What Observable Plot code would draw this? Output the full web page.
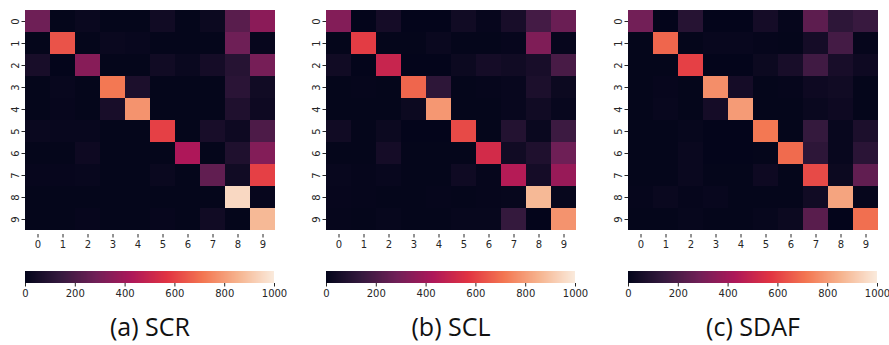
<!DOCTYPE html>
<html>
<head>
<meta charset="utf-8">
<script src="https://cdn.jsdelivr.net/npm/d3@7"></script>
<script src="https://cdn.jsdelivr.net/npm/@observablehq/plot@0.6"></script>
<style>
  html, body { margin: 0; padding: 0; background: #fff; }
  #root { position: relative; width: 889px; height: 345px; overflow: hidden; font-family: "DejaVu Sans", sans-serif; }
  .panel { position: absolute; }
  .panel svg { overflow: visible; max-width: none !important; }
  .caption { position: absolute; top: 311px; width: 250px; text-align: center; font-family: "Open Sans", sans-serif; font-size: 25px; color: #111; line-height: 30px; white-space: nowrap; }
</style>
</head>
<body>
<div id="root"></div>
<script>
const classLabels = ["0","1","2","3","4","5","6","7","8","9"];
const colorTicks = [0, 200, 400, 600, 800, 1000];
const captions = ["(a) SCR", "(b) SCL", "(c) SDAF"];

const SCR = [
  [280,   5,  20,   5,   5,  40,   5,  25, 230, 350],
  [  5, 640,   5,  20,  15,   5,   5,   5, 280,  10],
  [ 60,   3, 340,   5,   5,  40,  20,  50, 100, 300],
  [  5,  15,   5, 720,  70,   5,   5,   5, 110,  40],
  [  5,  10,   5,  60, 780,   5,   5,   5,  80,  30],
  [ 20,  15,  15,   5,   5, 600,   5,  60,  30, 200],
  [  5,   5,  30,   5,   5,   5, 430,   5,  80, 330],
  [ 10,  10,  15,   5,   5,  20,   5, 250,  40, 600],
  [  5,   5,   5,   5,   5,   5,   5,   5, 950,  10],
  [  5,   5,  10,   5,   5,  10,   5,  40,   5, 870]
];
const SCL = [
  [330,   3,  50,   3,   3,  40,  10,  60, 180, 270],
  [  5, 590,   5,   5,  20,   5,   5,  10, 320,  10],
  [ 40,   3, 500,   3,   3,  25,  50,  40,  60, 190],
  [  5,   8,   5, 680, 120,   5,   8,  15,  70,  25],
  [  5,   5,   5,  25, 790,   5,   5,  15,  40,  15],
  [ 40,   5,  25,   3,   3, 620,   5,  90,  20, 160],
  [  5,   5,  50,   5,   5,   5, 530,  40,  80, 280],
  [ 15,   8,  15,   5,   5,  35,   8, 450,  50, 380],
  [ 10,   8,   5,   5,   8,   5,   8,  12, 870,  12],
  [  8,   5,  12,   5,   5,  12,  12, 140,   3, 780]
];
const SDAF = [
  [290,   3, 100,   3,   3,  50,   8, 240, 120, 150],
  [  5, 680,   5,  15,  15,   8,   5,  50, 180,   8],
  [  5,   5, 600,   3,   3,  25,  60, 170,  60,  30],
  [  5,  10,   5, 770,  50,   5,   8,  30,  40,   5],
  [  5,  15,   5,  50, 800,   5,   5,  20,  30,   5],
  [  5,   5,  12,   3,   3, 720,   5, 140,  15,  70],
  [  5,   5,  20,   3,   3,   5, 690, 120,  15, 110],
  [  5,   5,  20,   5,   5,  30,   5, 620,  25, 250],
  [  8,  20,   8,  15,   5,   5,   5,  40, 820,   8],
  [  5,   5,  12,   5,   5,  12,  25, 230,   3, 700]
];
const matrices = [SCR, SCL, SDAF];

// seaborn "rocket" colormap stops
const rocketStops = ["#03051a", "#35193e", "#701f57", "#ad1759", "#e13342", "#f37651", "#f6b48f", "#faebdd"];
const rocket = d3.piecewise(d3.interpolateRgb, rocketStops);

const colorOpts = { type: "linear", domain: [0, 1000], interpolate: () => rocket, clamp: true };
const offsets = [0, 301, 603];
const root = document.getElementById("root");

matrices.forEach((m, k) => {
  const cells = [];
  m.forEach((row, i) => row.forEach((v, j) => cells.push({ true: classLabels[i], pred: classLabels[j], v })));

  const heat = Plot.plot({
    width: 280, height: 256,
    marginLeft: 25, marginRight: 5, marginTop: 6, marginBottom: 22,
    style: { fontFamily: "DejaVu Sans, sans-serif", fontSize: "10px", color: "#262626", background: "transparent", maxWidth: "none" },
    x: { type: "band", domain: classLabels, padding: 0, tickSize: 3.5, tickPadding: 3, label: null },
    y: { type: "band", domain: classLabels, padding: 0, tickSize: 3.5, tickPadding: 3, tickRotate: -90, label: null },
    color: colorOpts,
    marks: [
      Plot.cell(cells, { x: "pred", y: "true", fill: "v", inset: 0 })
    ]
  });
  const hd = document.createElement("div");
  hd.className = "panel";
  hd.style.left = offsets[k] + "px";
  hd.style.top = "0px";
  hd.style.width = "280px";
  hd.appendChild(heat);
  root.appendChild(hd);

  const ramp = d3.range(0, 1000, 1);
  const bar = Plot.plot({
    width: 300, height: 50,
    marginLeft: 25, marginRight: 26, marginTop: 16, marginBottom: 22,
    style: { fontFamily: "DejaVu Sans, sans-serif", fontSize: "10px", color: "#262626", background: "transparent", maxWidth: "none" },
    x: { domain: [0, 1000], ticks: colorTicks, tickFormat: d => String(d), tickSize: 3.5, tickPadding: 3, label: null },
    y: { axis: null, domain: [0, 1] },
    color: colorOpts,
    marks: [
      Plot.rect(ramp, { x1: d => d, x2: d => d + 1.6, y1: 0, y2: 1, fill: d => d + 0.5, shapeRendering: "crispEdges" })
    ]
  });
  const bd = document.createElement("div");
  bd.className = "panel";
  bd.style.left = offsets[k] + "px";
  bd.style.top = "255px";
  bd.style.width = "300px";
  bd.appendChild(bar);
  root.appendChild(bd);

  const cap = document.createElement("div");
  cap.className = "caption";
  cap.style.left = (offsets[k] + 25) + "px";
  cap.textContent = captions[k];
  root.appendChild(cap);
});
</script>
</body>
</html>
